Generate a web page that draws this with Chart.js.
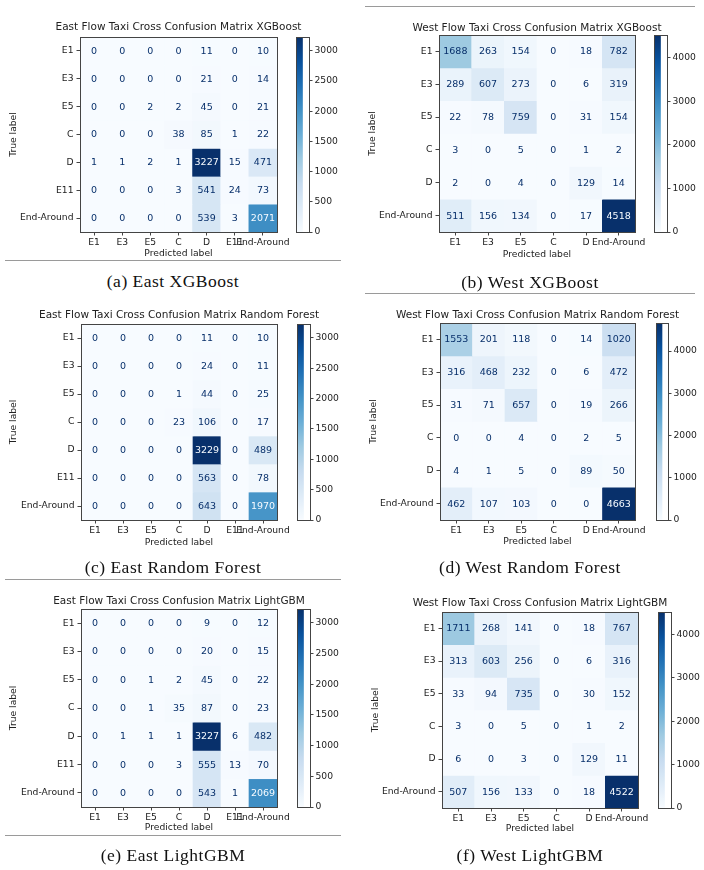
<!DOCTYPE html>
<html><head><meta charset="utf-8">
<script src="https://cdn.jsdelivr.net/npm/chart.js@4.4.1/dist/chart.umd.min.js"></script>
<style>
html,body{margin:0;padding:0;background:#fff;}
#page{position:relative;width:704px;height:870px;overflow:hidden;background:#fff;}
#page canvas{position:absolute;}
.cap{position:absolute;font-family:"Liberation Serif",serif;font-size:17.5px;letter-spacing:0.5px;color:#111;white-space:nowrap;transform:translate(-50%,-50%);}
.sep{position:absolute;height:1px;background:#9a9a9a;}
</style></head><body><div id="page"></div>
<script>
// ---- data ----
const eastClasses = ['E1','E3','E5','C','D','E11','End-Around'];
const westClasses = ['E1','E3','E5','C','D','End-Around'];
const eastCbTicks = [0,500,1000,1500,2000,2500,3000];
const westCbTicks = [0,1000,2000,3000,4000];

const eastXGB = [
  [0,0,0,0,11,0,10],
  [0,0,0,0,21,0,14],
  [0,0,2,2,45,0,21],
  [0,0,0,38,85,1,22],
  [1,1,2,1,3227,15,471],
  [0,0,0,3,541,24,73],
  [0,0,0,0,539,3,2071]
];
const westXGB = [
  [1688,263,154,0,18,782],
  [289,607,273,0,6,319],
  [22,78,759,0,31,154],
  [3,0,5,0,1,2],
  [2,0,4,0,129,14],
  [511,156,134,0,17,4518]
];
const eastRF = [
  [0,0,0,0,11,0,10],
  [0,0,0,0,24,0,11],
  [0,0,0,1,44,0,25],
  [0,0,0,23,106,0,17],
  [0,0,0,0,3229,0,489],
  [0,0,0,0,563,0,78],
  [0,0,0,0,643,0,1970]
];
const westRF = [
  [1553,201,118,0,14,1020],
  [316,468,232,0,6,472],
  [31,71,657,0,19,266],
  [0,0,4,0,2,5],
  [4,1,5,0,89,50],
  [462,107,103,0,0,4663]
];
const eastLGBM = [
  [0,0,0,0,9,0,12],
  [0,0,0,0,20,0,15],
  [0,0,1,2,45,0,22],
  [0,0,1,35,87,0,23],
  [0,1,1,1,3227,6,482],
  [0,0,0,3,555,13,70],
  [0,0,0,0,543,1,2069]
];
const westLGBM = [
  [1711,268,141,0,18,767],
  [313,603,256,0,6,316],
  [33,94,735,0,30,152],
  [3,0,5,0,1,2],
  [6,0,3,0,129,11],
  [507,156,133,0,18,4522]
];

// ---- style helpers ----
const BLUES = ['#f7fbff','#deebf7','#c6dbef','#9ecae1','#6baed6','#4292c6','#2171b5','#08519c','#08306b'];
function hex2rgb(h){return [parseInt(h.slice(1,3),16),parseInt(h.slice(3,5),16),parseInt(h.slice(5,7),16)];}
function blues(t){
  t = Math.max(0, Math.min(1, t));
  const p = t * 8, i = Math.min(7, Math.floor(p)), f = p - i;
  const a = hex2rgb(BLUES[i]), b = hex2rgb(BLUES[i+1]);
  return 'rgb(' + a.map((v,k)=>Math.round(v + (b[k]-v)*f)).join(',') + ')';
}
const FONT = 'DejaVu Sans';
const TXT = '#222';
const AXC = '#444';
const FS = 9.2;
const LH = FS * 1.2;

const panels = [
  {title:'East Flow Taxi Cross Confusion Matrix XGBoost', classes:eastClasses, matrix:eastXGB, cbTicks:eastCbTicks,
   L:0, T:0, B:264, area:[80,37,277,232], cb:[296,309], titleCy:27, xTitleCy:254, yTitleCx:14, caption:'(a) East XGBoost', capX:173, capY:281},
  {title:'West Flow Taxi Cross Confusion Matrix XGBoost', classes:westClasses, matrix:westXGB, cbTicks:westCbTicks,
   L:352, T:0, B:264, area:[439,35,635,232], cb:[654,667], titleCy:28, xTitleCy:255, yTitleCx:373, caption:'(b) West XGBoost', capX:530, capY:282},
  {title:'East Flow Taxi Cross Confusion Matrix Random Forest', classes:eastClasses, matrix:eastRF, cbTicks:eastCbTicks,
   L:0, T:290, B:552, area:[81,324,277,520], cb:[297,310], titleCy:315, xTitleCy:543, yTitleCx:14, caption:'(c) East Random Forest', capX:173, capY:567},
  {title:'West Flow Taxi Cross Confusion Matrix Random Forest', classes:westClasses, matrix:westRF, cbTicks:westCbTicks,
   L:352, T:290, B:552, area:[440,323,635,520], cb:[656,668], titleCy:315, xTitleCy:542, yTitleCx:374, caption:'(d) West Random Forest', capX:530, capY:567},
  {title:'East Flow Taxi Cross Confusion Matrix LightGBM', classes:eastClasses, matrix:eastLGBM, cbTicks:eastCbTicks,
   L:0, T:580, B:840, area:[81,609,277,807], cb:[297,310], titleCy:601, xTitleCy:828, yTitleCx:14, caption:'(e) East LightGBM', capX:173, capY:855},
  {title:'West Flow Taxi Cross Confusion Matrix LightGBM', classes:westClasses, matrix:westLGBM, cbTicks:westCbTicks,
   L:352, T:580, B:840, area:[442,612,638,808], cb:[658,671], titleCy:603, xTitleCy:829, yTitleCx:376, caption:'(f) West LightGBM', capX:530, capY:855}
];
const seps = [
  {x1:5, x2:341, y:260}, {x1:365, x2:695, y:6}, {x1:5, x2:341, y:579}, {x1:365, x2:695, y:293}, {x1:5, x2:341, y:835}
];

const page = document.getElementById('page');

const cmPlugin = {
  id: 'cm',
  afterDatasetsDraw(chart, args, o) {
    if (!o || !o.matrix) return;
    const ctx = chart.ctx, xs = chart.scales.x, ys = chart.scales.y;
    const vmax = o.vmax, thr = vmax / 2;
    ctx.save();
    ctx.font = '9.5px "' + FONT + '"';
    ctx.textAlign = 'center';
    ctx.textBaseline = 'middle';
    o.matrix.forEach((row, i) => {
      row.forEach((v, j) => {
        ctx.fillStyle = v >= thr ? BLUES[0] : BLUES[8];
        ctx.fillText(String(v), xs.getPixelForValue(j), ys.getPixelForValue(i + 0.5) + 0.5);
      });
    });
    ctx.restore();
  },
  afterDraw(chart, args, o) {
    if (!o) return;
    const ctx = chart.ctx, a = chart.chartArea;
    ctx.save();
    ctx.strokeStyle = o.frame || AXC;
    ctx.lineWidth = 1;
    ctx.strokeRect(Math.round(a.left) + 0.5, Math.round(a.top) + 0.5, Math.round(a.right - a.left), Math.round(a.bottom - a.top));
    if (o.title) {
      ctx.font = '10.5px "' + FONT + '"';
      ctx.fillStyle = TXT;
      ctx.textAlign = 'center';
      ctx.textBaseline = 'middle';
      ctx.fillText(o.title, (a.left + a.right) / 2, o.titleY);
    }
    ctx.restore();
  }
};

function mkCanvas(left, top, w, h) {
  const c = document.createElement('canvas');
  c.width = w; c.height = h;
  c.style.left = left + 'px'; c.style.top = top + 'px';
  c.style.width = w + 'px'; c.style.height = h + 'px';
  page.appendChild(c);
  return c;
}

panels.forEach(p => {
  const n = p.classes.length;
  const vmax = Math.max(...p.matrix.flat());
  const W = 352, H = p.B - p.T;
  const [pl, pt, pr, pb] = p.area;
  const cv = mkCanvas(p.L, p.T, W, H);
  const datasets = p.matrix.map((row, i) => ({
    data: row.map(() => [i, i + 1]),
    backgroundColor: row.map(v => blues(v / vmax)),
    borderWidth: 0,
    barPercentage: 1,
    categoryPercentage: 1,
    grouped: false
  }));
  new Chart(cv, {
    type: 'bar',
    data: { labels: p.classes, datasets },
    plugins: [cmPlugin],
    options: {
      responsive: false, animation: false, devicePixelRatio: 1, events: [],
      layout: { padding: { left: 0, top: pt - p.T, right: p.L + W - pr, bottom: 0 } },
      plugins: {
        legend: { display: false }, tooltip: { enabled: false },
        cm: { matrix: p.matrix, vmax, title: p.title, titleY: p.titleCy - p.T }
      },
      scales: {
        x: {
          type: 'category', position: 'bottom', offset: true,
          grid: { display: true, drawOnChartArea: false, drawTicks: true, tickLength: 3.5, offset: false, color: AXC },
          border: { display: false },
          ticks: { font: { family: FONT, size: FS }, color: TXT, padding: 2, autoSkip: false, maxRotation: 0, minRotation: 0 },
          title: { display: true, text: 'Predicted label', font: { family: FONT, size: FS }, color: TXT,
                   padding: { top: 0, bottom: p.B - p.xTitleCy - LH / 2 } },
          afterFit: s => { s.height = p.B - pb; }
        },
        y: {
          type: 'linear', min: 0, max: n, reverse: true,
          afterBuildTicks: s => { s.ticks = p.classes.map((c, i) => ({ value: i + 0.5 })); },
          grid: { display: true, drawOnChartArea: false, drawTicks: true, tickLength: 3.5, color: AXC },
          border: { display: false },
          ticks: { font: { family: FONT, size: FS }, color: TXT, padding: 3, autoSkip: false,
                   callback: (v, idx) => p.classes[idx] },
          title: { display: true, text: 'True label', font: { family: FONT, size: FS }, color: TXT,
                   padding: { top: p.yTitleCx - p.L - LH / 2, bottom: 0 } },
          afterFit: s => { s.width = pl - p.L; }
        }
      }
    }
  });

  // colorbar
  const cbW = p.cb[1] - p.cb[0];
  const cW = Math.min(48, 704 - p.cb[0]);
  const cH = pb - pt + 24;
  const cc = mkCanvas(p.cb[0], pt - 12, cW, cH);
  new Chart(cc, {
    type: 'bar',
    data: { labels: [''], datasets: [{
      data: [[0, vmax]],
      backgroundColor: (ctx) => {
        const a = ctx.chart.chartArea;
        if (!a) return BLUES[4];
        const g = ctx.chart.ctx.createLinearGradient(0, a.bottom, 0, a.top);
        for (let k = 0; k <= 40; k++) g.addColorStop(k / 40, blues(k / 40));
        return g;
      },
      borderWidth: 0, barPercentage: 1, categoryPercentage: 1
    }] },
    plugins: [cmPlugin],
    options: {
      responsive: false, animation: false, devicePixelRatio: 1, events: [],
      layout: { padding: { left: 0, top: 12, right: 0, bottom: 12 } },
      plugins: { legend: { display: false }, tooltip: { enabled: false }, cm: { frame: AXC } },
      scales: {
        x: { type: 'category', display: false, offset: false },
        y: {
          type: 'linear', position: 'right', min: 0, max: vmax,
          afterBuildTicks: s => { s.ticks = p.cbTicks.map(v => ({ value: v })); },
          grid: { display: true, drawOnChartArea: false, drawTicks: true, tickLength: 3.5, color: AXC },
          border: { display: false },
          ticks: { font: { family: FONT, size: FS }, color: TXT, padding: 2, autoSkip: false,
                   callback: v => String(v) },
          afterFit: s => { s.width = cW - cbW; }
        }
      }
    }
  });

  const cap = document.createElement('div');
  cap.className = 'cap';
  cap.textContent = p.caption;
  cap.style.left = p.capX + 'px';
  cap.style.top = p.capY + 'px';
  page.appendChild(cap);
});

seps.forEach(s => {
  const d = document.createElement('div');
  d.className = 'sep';
  d.style.left = s.x1 + 'px'; d.style.top = s.y + 'px'; d.style.width = (s.x2 - s.x1) + 'px';
  page.appendChild(d);
});
</script>
</body></html>
